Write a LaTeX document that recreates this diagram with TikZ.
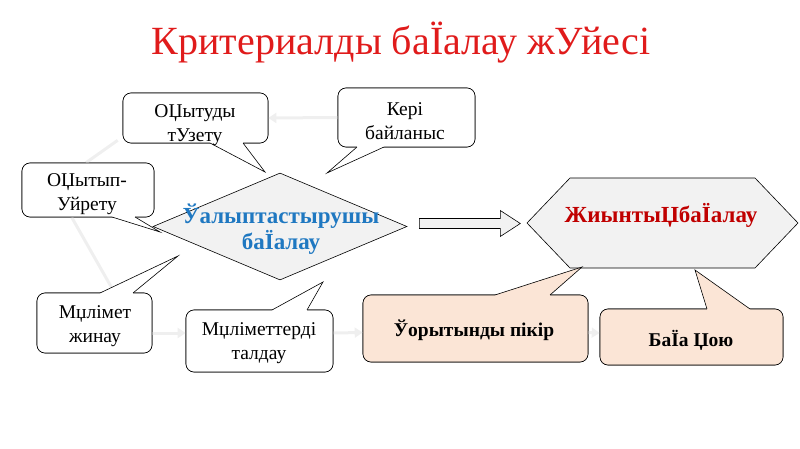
\documentclass[tikz,border=0pt]{standalone}
\usepackage{fontspec}
\setmainfont{Liberation Serif}
\usetikzlibrary{arrows.meta,shapes.geometric,calc}

\definecolor{titlered}{HTML}{E01B1B}
\definecolor{diablue}{HTML}{1F78C1}
\definecolor{hexred}{HTML}{C00000}
\definecolor{peach}{HTML}{FBE5D6}
\definecolor{shapegray}{HTML}{F2F2F2}
\definecolor{faint}{HTML}{EFEFEF}

\newcommand{\calltail}[5]{%
  \fill[#1] ($#2+(0,#5)$) -- #2 -- #3 -- #4 -- ($#4+(0,#5)$) -- cycle;
  \draw[line width=0.6pt] #2 -- #3 -- #4;}

\begin{document}
\begin{tikzpicture}[x=1pt,y=-1pt,
  callbox/.style={draw=black, line width=0.6pt, rounded corners=8pt, fill=white, inner sep=0pt},
  peachbox/.style={callbox, fill=peach},
  calltext/.style={font=\fontsize{19.5}{24}\selectfont, align=center, inner sep=0pt},
  boldtext/.style={font=\bfseries\fontsize{19.5}{22}\selectfont, inner sep=0pt},
  faintline/.style={draw=faint, line width=3pt},
  faintarrow/.style={faintline, -{Triangle[length=8pt,width=10pt]}}]
\useasboundingbox (0,0) rectangle (800,449);

% title
\node[text=titlered, font=\fontsize{40}{44}\selectfont, inner sep=0pt] (title) at (401,43) {Критериалды баЇалау жУйесі};

% boxes (positions for faint lines)
\node[callbox, minimum width=145pt, minimum height=50pt] (b1) at (195.5,118) {};
\node[callbox, minimum width=137pt, minimum height=59pt] (b2) at (406.5,117.5) {};
\node[callbox, minimum width=132pt, minimum height=54pt] (b3) at (88,190) {};
\node[callbox, minimum width=115pt, minimum height=60pt] (b4) at (94.5,323) {};
\node[callbox, minimum width=147pt, minimum height=62pt] (b5) at (259.5,341) {};
\node[peachbox, minimum width=225pt, minimum height=67pt] (b6) at (475.5,328.5) {};
\node[peachbox, minimum width=183pt, minimum height=56pt] (b7) at (691.5,337) {};

% faint background cycle
\draw[faintarrow] (b2.west) -- (b1.east);
\draw[faintline] ($(b1.south west)+(-5,-3)$) -- ($(b3.north)+(-2,0)$);
\draw[faintline] ($(b3.south west)+(50,0)$) -- ($(b4.north)+(20,0)$);
\draw[faintarrow] ($(b4.east)+(0,10)$) -- ($(b5.west)+(0,-8)$);
\draw[faintarrow] ($(b5.east)+(0,-8)$) -- ($(b6.west)+(0,4)$);
\draw[faintarrow] ($(b6.east)+(0,4)$) -- ($(b7.west)+(0,-4)$);

% redraw boxes above faint lines
\node[callbox, minimum width=145pt, minimum height=50pt] at (b1) {};
\node[callbox, minimum width=137pt, minimum height=59pt] at (b2) {};
\node[callbox, minimum width=132pt, minimum height=54pt] at (b3) {};
\node[callbox, minimum width=115pt, minimum height=60pt] at (b4) {};
\node[callbox, minimum width=147pt, minimum height=62pt] at (b5) {};
\node[peachbox, minimum width=225pt, minimum height=67pt] at (b6) {};
\node[peachbox, minimum width=183pt, minimum height=56pt] at (b7) {};

% diamond
\node[diamond, draw=black, line width=0.6pt, fill=shapegray, minimum width=254pt, minimum height=107pt, inner sep=0pt] (diam) at (280,226.5) {};

% hexagon
\coordinate (hexc) at (662.5,223);
\draw[line width=0.6pt, fill=shapegray] (527,223) -- (570,178) -- (755,178) -- (798,223) -- (755,268) -- (570,268) -- cycle;

% block arrow
\coordinate (ba) at ($(diam.east)+(12,-3)$);
\draw[line width=0.6pt, fill=shapegray] (ba) -- ++(0,-5) -- ++(81,0) -- ++(0,-8) -- ++(20,13) -- ++(-20,13) -- ++(0,-8) -- ++(-81,0) -- cycle;

% tails
\calltail{white}{(210,143)}{(265,172)}{(243,143)}{-2}
\calltail{white}{(357,147)}{(327,173)}{(384,147)}{-2}
\calltail{white}{(112,217)}{(160,232)}{(135,217)}{-2}
\calltail{white}{(100,293)}{(178,256)}{(133,293)}{2}
\calltail{white}{(272,310)}{(323,282)}{(307,310)}{2}
\calltail{peach}{(495,295)}{(582,267)}{(550,295)}{2}
\calltail{peach}{(707,309)}{(695,270)}{(750,309)}{2}

% texts
\node[calltext] (t1) at (195,125) {ОЏытуды\\тУзету};
\node[calltext] (t2) at (405,121.5) {Кері\\байланыс};
\node[calltext] (t3) at (87,194.5) {ОЏытып-\\Уйрету};
\node[calltext] (t4) at (95,326.5) {Мџлімет\\жинау};
\node[calltext] (t5) at (259,343.5) {Мџліметтерді\\талдау};
\node[font=\bfseries\fontsize{23}{26}\selectfont, text=diablue, align=center, inner sep=0pt] (t6) at (281,229.5) {Ўалыптастырушы\\баЇалау};
\node[font=\bfseries\fontsize{23}{26}\selectfont, text=hexred, inner sep=0pt] (t7) at (661,215) {ЖиынтыЏбаЇалау};
\node[boldtext] (t8) at (474,330) {Ўорытынды пікір};
\node[boldtext] (t9) at (691,340) {БаЇа Џою};
\end{tikzpicture}
\end{document}
